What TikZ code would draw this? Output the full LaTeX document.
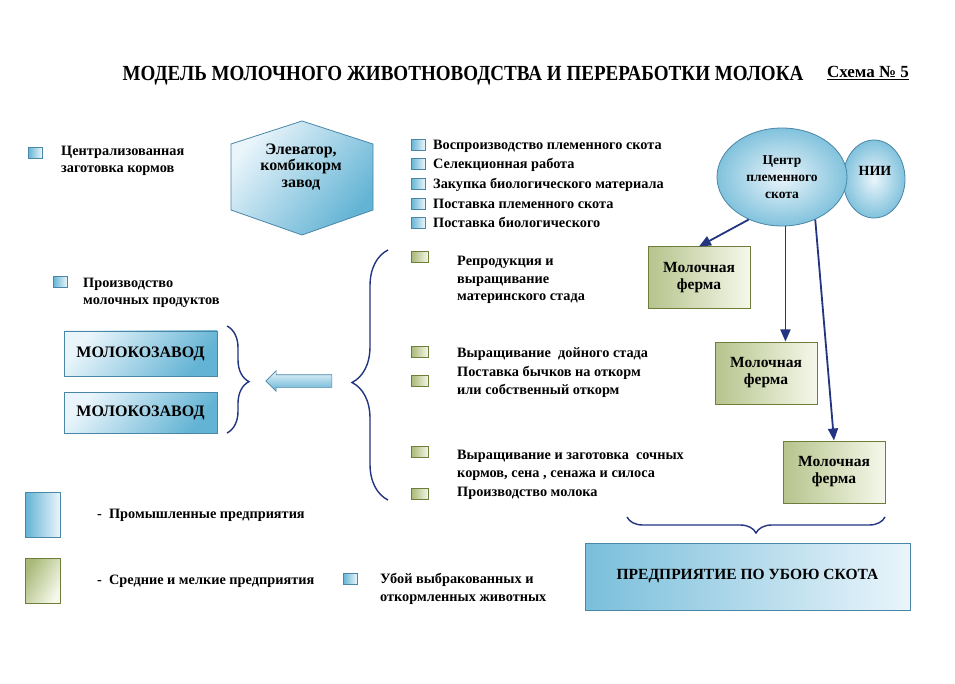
\documentclass[tikz,border=0pt]{standalone}
\usepackage{fontspec}
\setmainfont{Liberation Serif}
\usetikzlibrary{shapes.geometric,shapes.arrows,decorations.pathreplacing,arrows.meta}
\definecolor{navy}{HTML}{233580}
\definecolor{bluel}{HTML}{EAF5FB}
\definecolor{blued}{HTML}{62B3D4}
\definecolor{blueedge}{HTML}{4A86A8}
\definecolor{greenl}{HTML}{F5F8EA}
\definecolor{greend}{HTML}{A9B978}
\definecolor{greenedge}{HTML}{6E7E3A}
\tikzset{
  txt/.style={font=\bfseries\fontsize{14.3}{17.5}\selectfont, inner sep=0pt, align=left, anchor=base west},
  bbullet/.style={draw=blueedge, line width=0.8pt, left color=blued, right color=bluel, minimum width=14pt, minimum height=11pt, inner sep=0pt},
  gbullet/.style={draw=greenedge, line width=0.8pt, left color=greend, right color=greenl, minimum width=17pt, minimum height=11pt, inner sep=0pt},
  bluebox/.style={draw=blueedge, line width=0.8pt, left color=bluel, right color=blued, shading angle=50, inner sep=0pt},
  greenbox/.style={draw=greenedge, line width=0.8pt, left color=greend, right color=greenl, shading angle=60, inner sep=0pt},
  farm/.style={greenbox, line width=1pt, left color=greend!85, minimum width=102pt, minimum height=62pt, align=center, font=\bfseries\fontsize{15.5}{17}\selectfont},
  conn/.style={draw=navy, line width=1.8pt, -{Triangle[length=12pt,width=10pt]}},
  brc/.style={draw=navy, line width=1.4pt, decorate},
}
\begin{document}
\begin{tikzpicture}[x=1pt,y=-1pt]
\useasboundingbox[fill=white] (0,0) rectangle (955,684);
% title
\node[font=\bfseries\fontsize{20.5}{24}\selectfont, inner sep=0] (title) at (463,76) {\scalebox{0.93}[1.05]{МОДЕЛЬ МОЛОЧНОГО ЖИВОТНОВОДСТВА И ПЕРЕРАБОТКИ МОЛОКА}};
\node[font=\bfseries\fontsize{17}{19}\selectfont, inner sep=0] (schema) at (868,73) {\underline{Схема № 5}};
% centralised feed
\node[bbullet] (b1) at (35,153) {};
\node[txt] (t1) at (61,173) {Централизованная\\заготовка кормов};
% hexagon
\path[bluebox] (302,121) -- (373,144) -- (373,210) -- (302,235) -- (231,210) -- (231,144) -- cycle;
\node[font=\bfseries\fontsize{16}{16.5}\selectfont, align=center, inner sep=0] (elev) at (301,167) {Элеватор,\\комбикорм\\завод};
% blue list
\node[bbullet] (bl1) at (418,145) {}; \node[txt] (bt1) at (433,150) {Воспроизводство племенного скота};
\node[bbullet] (bl2) at (418,164) {}; \node[txt] (bt2) at (433,169) {Селекционная работа};
\node[bbullet] (bl3) at (418,184) {}; \node[txt] (bt3) at (433,189) {Закупка биологического материала};
\node[bbullet] (bl4) at (418,204) {}; \node[txt] (bt4) at (433,209) {Поставка племенного скота};
\node[bbullet] (bl5) at (418,223) {}; \node[txt] (bt5) at (433,228) {Поставка биологического};
% centre and NII
\node[ellipse, draw=blueedge, line width=0.8pt, inner color=bluel, outer color=blued!80, minimum width=62pt, minimum height=78pt] (nii) at (874,179) {};
\node[ellipse, draw=blueedge, line width=0.8pt, inner color=bluel, outer color=blued!80, minimum width=130pt, minimum height=98pt, align=center, font=\bfseries\fontsize{13.5}{17}\selectfont, inner sep=0] (centre) at (782,177) {Центр\\племенного\\скота};
\node[font=\bfseries\fontsize{14}{17}\selectfont, inner sep=0] (niitxt) at (875,171) {НИИ};
% farms
\node[farm] (f1) at (699,278) {Молочная\\ферма};
\node[farm] (f2) at (766,373) {Молочная\\ферма};
\node[farm] (f3) at (834,472) {Молочная\\ферма};
\draw[conn] (centre.-128) -- (f1.north);
\draw[conn] (centre.-86) -- (centre.-86 |- f2.north);
\draw[conn] (centre.-52) -- (f3.north);
% green list
\node[gbullet] (g1b) at (420,257) {}; \node[txt] (g1) at (457,301) {Репродукция и\\выращивание\\материнского стада};
\node[gbullet] (g2b) at (420,352) {}; \node[txt] (g2) at (457,357) {Выращивание\ \ дойного стада};
\node[gbullet] (g3b) at (420,381) {}; \node[txt] (g3) at (457,394) {Поставка бычков на откорм\\или собственный откорм};
\node[gbullet] (g4b) at (420,452) {}; \node[txt] (g4) at (457,477) {Выращивание и заготовка\ \ сочных\\кормов, сена , сенажа и силоса};
\node[gbullet] (g5b) at (420,494) {}; \node[txt] (g5) at (457,496) {Производство молока};
\draw[brc, decoration={brace, amplitude=36pt, aspect=0.47}] (388,500) -- (388,250);
% arrow
\node[single arrow, shape border rotate=180, draw=blueedge, line width=0.6pt, top color=bluel, bottom color=blued, inner sep=6pt, single arrow head extend=4pt, minimum height=66pt] (arr) at (302,381) {};
% milk plants
\node[bluebox, minimum width=153pt, minimum height=45pt, font=\bfseries\fontsize{16}{18}\selectfont] (m1) at (140.5,353.5) {МОЛОКОЗАВОД};
\node[bluebox, minimum width=153pt, minimum height=41pt, font=\bfseries\fontsize{16}{18}\selectfont] (m2) at (140.5,412.5) {МОЛОКОЗАВОД};
\draw[brc, decoration={brace, amplitude=22pt, aspect=0.52}] (227,326) -- (227,433);
\node[bbullet] (b2) at (60,282) {};
\node[txt] (t2) at (83,305) {Производство\\молочных продуктов};
% legend
\node[bluebox, left color=blued, right color=bluel, minimum width=35pt, minimum height=45pt] (leg1) at (42.5,514.5) {};
\node[txt] (leg1t) at (97,518) {-\ \ Промышленные предприятия};
\node[greenbox, minimum width=35pt, minimum height=45pt] (leg2) at (42.5,580.5) {};
\node[txt] (leg2t) at (97,584) {-\ \ Средние и мелкие предприятия};
\node[bbullet] (b3) at (350,579) {};
\node[txt] (t3) at (380,601) {Убой выбракованных и\\откормленных животных};
% slaughter
\draw[brc, decoration={brace, amplitude=16pt, aspect=0.5}] (885,517) -- (627,517);
\node[bluebox, left color=blued!85, right color=bluel, minimum width=325pt, minimum height=67pt, font=\bfseries\fontsize{15.5}{18}\selectfont] (ub) at (747.5,576.5) {ПРЕДПРИЯТИЕ ПО УБОЮ СКОТА};
\end{tikzpicture}
\end{document}
